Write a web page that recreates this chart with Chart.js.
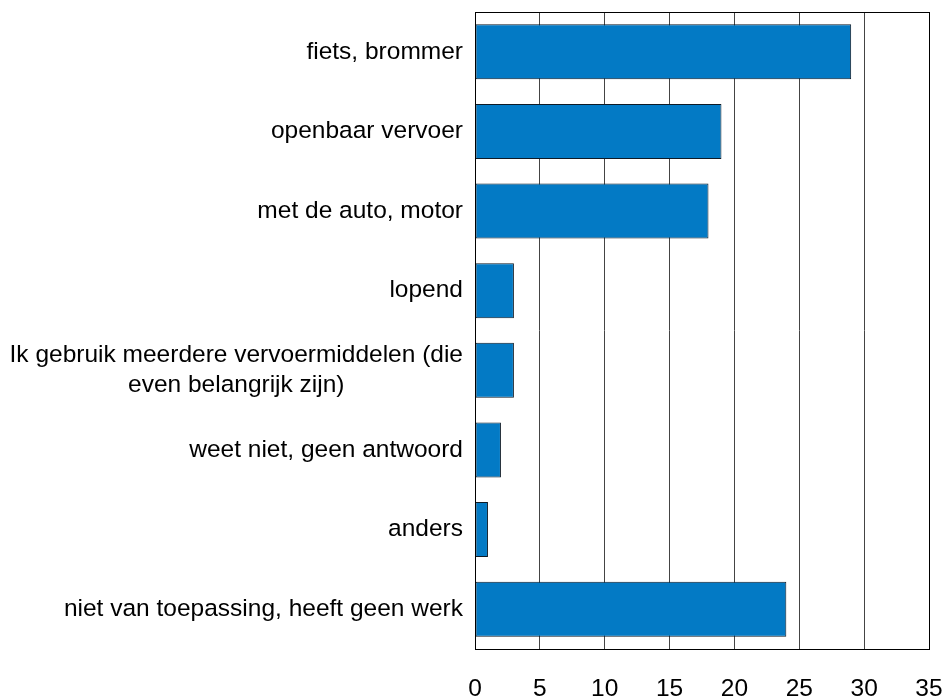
<!DOCTYPE html>
<html>
<head>
<meta charset="utf-8">
<script src="https://cdn.jsdelivr.net/npm/chart.js@4/dist/chart.umd.min.js"></script>
<style>
  body { margin: 0; background: #fff; }
  #wrap { width: 943px; height: 698px; }
</style>
</head>
<body>
<div id="wrap"><canvas id="barChart" width="943" height="698"></canvas></div>
<script>
// categories, top to bottom
const labels = [
  'fiets, brommer',
  'openbaar vervoer',
  'met de auto, motor',
  'lopend',
  ['Ik gebruik meerdere vervoermiddelen (die', 'even belangrijk zijn)'],
  'weet niet, geen antwoord',
  'anders',
  'niet van toepassing, heeft geen werk'
];
// percentages
const values = [29, 19, 18, 3, 3, 2, 1, 24];
// x axis
const xMin = 0;
const xMax = 35;
const xStep = 5;

const FONT = '"Liberation Sans", Arial, sans-serif';

// draws the category labels: single lines right aligned, wrapped lines centred on each other
const catLabels = {
  id: 'catLabels',
  afterDraw(chart) {
    const ctx = chart.ctx;
    const yScale = chart.scales.y;
    const right = chart.chartArea.left - 12;
    const lh = 29.4;
    ctx.save();
    ctx.font = '24.5px ' + FONT;
    ctx.fillStyle = '#000';
    ctx.textBaseline = 'middle';
    labels.forEach((lab, i) => {
      const y = yScale.getPixelForTick(i);
      if (Array.isArray(lab)) {
        const w = Math.max(...lab.map(s => ctx.measureText(s).width));
        const cx = right - w / 2;
        ctx.textAlign = 'center';
        lab.forEach((s, j) => {
          ctx.fillText(s, cx, y + (j - (lab.length - 1) / 2) * lh);
        });
      } else {
        ctx.textAlign = 'right';
        ctx.fillText(lab, right, y);
      }
    });
    ctx.restore();
  }
};

// black frame round the plot area
const frame = {
  id: 'frame',
  afterDatasetsDraw(chart) {
    const a = chart.chartArea;
    const ctx = chart.ctx;
    ctx.save();
    ctx.strokeStyle = '#000';
    ctx.lineWidth = 1;
    ctx.strokeRect(Math.round(a.left) + 0.5, Math.round(a.top) + 0.5,
      Math.round(a.right - a.left), Math.round(a.bottom - a.top));
    ctx.restore();
  }
};

const ctx = document.getElementById('barChart').getContext('2d');
const myChart = new Chart(ctx, {
  type: 'bar',
  data: {
    labels: labels,
    datasets: [{
      data: values,
      backgroundColor: '#037AC5',
      borderColor: '#0e1a26',
      borderWidth: 1,
      borderSkipped: false,
      categoryPercentage: 1,
      barPercentage: 0.69
    }]
  },
  options: {
    indexAxis: 'y',
    responsive: false,
    animation: false,
    layout: { padding: { top: 12, right: 4, bottom: 0, left: 0 } },
    plugins: {
      legend: { display: false },
      tooltip: { enabled: false }
    },
    scales: {
      x: {
        min: xMin,
        max: xMax,
        ticks: {
          stepSize: xStep,
          color: '#000',
          font: { family: FONT, size: 24.5 },
          padding: 26
        },
        grid: { color: '#444', drawTicks: false, tickLength: 0 },
        border: { display: false },
        afterFit(scale) {
          scale.height = 49;
          scale.paddingRight = 14;
          scale.paddingLeft = 0;
        }
      },
      y: {
        ticks: { display: false },
        grid: { display: false },
        border: { display: false },
        afterFit(scale) { scale.width = 475; }
      }
    }
  },
  plugins: [catLabels, frame]
});
</script>
</body>
</html>
